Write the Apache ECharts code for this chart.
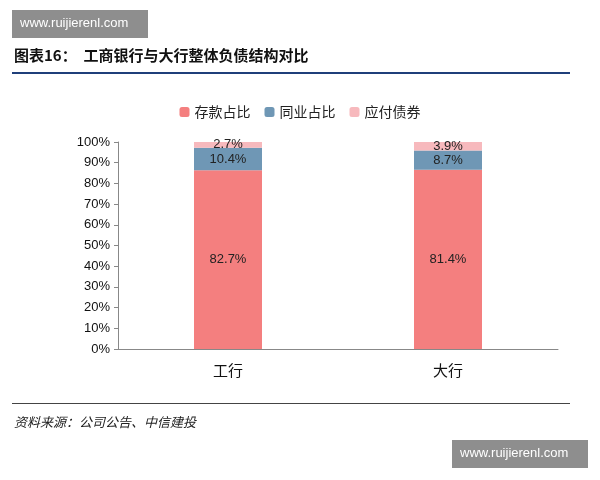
<!DOCTYPE html>
<html>
<head>
<meta charset="utf-8">
<script src="https://cdn.jsdelivr.net/npm/echarts@6/dist/echarts.min.js"></script>
<style>body{margin:0;background:#fff}#main{width:600px;height:480px}</style>
</head>
<body>
<div id="main"></div>
<script>
// 数据
const banks = ['工行', '大行']
const deposit = [82.7, 81.4]
const interbank = [10.4, 8.7]
const bonds = [2.7, 3.9]
const seriesNames = ['存款占比', '同业占比', '应付债券']

// 柱子按总和归一化到100%，标签显示原始数值
const totals = banks.map((_, i) => deposit[i] + interbank[i] + bonds[i])
const share = arr => arr.map((v, i) => ({ value: v / totals[i] * 100, raw: v }))

const font = '"Noto Sans CJK SC", sans-serif'
const myChart = echarts.init(document.querySelector('#main'))
const mkSeries = (name, arr, color) => ({
    name,
    type: 'bar',
    stack: 'total',
    barWidth: 68,
    data: share(arr),
    itemStyle: { color },
    label: {
        show: true,
        position: 'inside',
        color: '#222',
        fontSize: 13,
        fontFamily: 'Arial',
        formatter: p => p.data.raw.toFixed(1) + '%'
    }
})
const option = {
    animation: false,
    graphic: [
        { type: 'rect', shape: { x: 12, y: 10, width: 136, height: 28 }, style: { fill: '#8e8e8e' } },
        { type: 'text', left: 20, top: 17, style: { text: 'www.ruijierenl.com', fill: '#fff', font: '13px Arial' } },
        { type: 'rect', shape: { x: 452, y: 440, width: 136, height: 28 }, style: { fill: '#8e8e8e' } },
        { type: 'text', left: 460, top: 447, style: { text: 'www.ruijierenl.com', fill: '#fff', font: '13px Arial' } },
        { type: 'text', left: 14, top: 48, style: { text: '图表16：  工商银行与大行整体负债结构对比', fill: '#111', font: 'bold 15px ' + font } },
        { type: 'rect', shape: { x: 12, y: 72, width: 558, height: 2 }, style: { fill: '#1f3f7a' } },
        { type: 'rect', shape: { x: 12, y: 403, width: 558, height: 1 }, style: { fill: '#444' } },
        { type: 'text', left: 14, top: 416, style: { text: '资料来源：公司公告、中信建投', fill: '#222', font: 'italic 13px ' + font } }
    ],
    legend: {
        top: 100,
        left: 'center',
        itemWidth: 10,
        itemHeight: 10,
        itemGap: 14,
        textStyle: { fontSize: 14, fontFamily: font, color: '#222' },
        data: seriesNames
    },
    grid: { left: 118, right: 42, top: 142, bottom: 131 },
    xAxis: {
        type: 'category',
        data: banks,
        axisTick: { show: false },
        axisLine: { lineStyle: { color: '#888' } },
        axisLabel: { fontSize: 15, color: '#111', fontFamily: font, margin: 14 }
    },
    yAxis: {
        type: 'value',
        min: 0,
        max: 100,
        interval: 10,
        splitLine: { show: false },
        axisLine: { show: true, lineStyle: { color: '#888' } },
        axisTick: { show: true, length: 4 },
        axisLabel: { fontSize: 13, color: '#111', fontFamily: 'Arial', formatter: '{value}%' }
    },
    series: [
        mkSeries(seriesNames[0], deposit, '#f47f7f'),
        mkSeries(seriesNames[1], interbank, '#6f97b5'),
        mkSeries(seriesNames[2], bonds, '#f7b9bd')
    ]
}
myChart.setOption(option)
</script>
</body>
</html>
